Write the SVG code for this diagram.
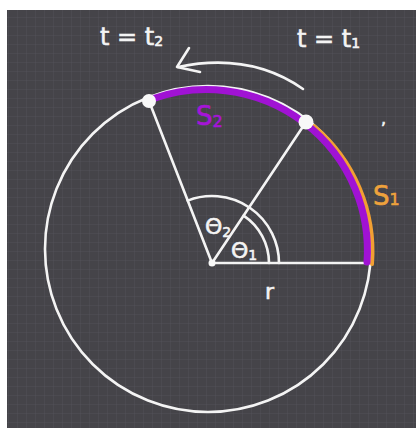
<svg xmlns="http://www.w3.org/2000/svg" width="416" height="428" viewBox="0 0 416 428">
<defs>
<pattern id="grid" width="9" height="9" patternUnits="userSpaceOnUse">
<path d="M9 0 V9 M0 9 H9" stroke="#5c5b61" stroke-width="1" opacity="0.5" fill="none"/>
</pattern>
<style>
.ch{fill:none;stroke:#f4f4f4;stroke-width:2.6;stroke-linecap:round;stroke-linejoin:round}
.lbl{font-family:"DejaVu Sans","Liberation Sans",sans-serif;fill:#f4f4f4;stroke:#f4f4f4;stroke-width:0.6}
.sub{font-size:14px}
</style>
</defs>
<rect x="0" y="0" width="416" height="428" fill="#ffffff"/>
<rect x="7" y="10" width="409" height="418" fill="#454449"/>
<rect x="7" y="10" width="409" height="418" fill="url(#grid)"/>

<g id="circle">
<circle cx="208" cy="249" r="163" class="ch"/>
</g>
<g id="connectors">
<line x1="212" y1="263" x2="149" y2="101" class="ch"/>
<line x1="212" y1="263" x2="306" y2="122" class="ch"/>
<line x1="212" y1="263" x2="370" y2="263" class="ch"/>
<path d="M187.7 200.6 A67 67 0 0 1 279 263" class="ch"/>
<path d="M243.6 215.6 A57 57 0 0 1 269 263" class="ch"/>
<path d="M303 89 Q250 52 178 67" class="ch" stroke-width="2"/>
<path d="M189 48 L177 67 L200 72" class="ch" stroke-width="2"/>
</g>
<g id="arc-s1">
<path d="M314 126 A164 164 0 0 1 372 264" fill="none" stroke="#f2a033" stroke-width="4" stroke-linecap="round"/>
</g>
<g id="arc-s2">
<path d="M152 99 A161 161 0 0 1 367 262" fill="none" stroke="#a012d4" stroke-width="7" stroke-linecap="round"/>
</g>
<g id="point-t2"><circle cx="149" cy="101" r="7" fill="#f8f8f8"/></g>
<g id="point-t1"><circle cx="306" cy="122" r="7.5" fill="#f8f8f8"/></g>
<g id="center"><circle cx="212" cy="263" r="3.5" fill="#f8f8f8"/></g>

<g id="labels">
<text x="100" y="45" class="lbl" font-size="24">t = t<tspan class="sub" dy="1">2</tspan></text>
<text x="297" y="47" class="lbl" font-size="24">t = t<tspan class="sub" dy="1">1</tspan></text>
<text x="196" y="125" class="lbl" font-size="26" style="fill:#a614d8;stroke:#a614d8">S<tspan font-size="16" dy="2">2</tspan></text>
<text x="373" y="205" class="lbl" font-size="26" style="fill:#eea23c;stroke:#eea23c">S<tspan font-size="16" dy="0">1</tspan></text>
<text x="205" y="234" class="lbl" font-size="22">Θ<tspan class="sub" dy="3">2</tspan></text>
<text x="231" y="258" class="lbl" font-size="22">Θ<tspan class="sub" dy="2">1</tspan></text>
<text x="265" y="299" class="lbl" font-size="22">r</text>
<text x="381" y="124" class="lbl" font-size="16">,</text>
</g>
</svg>
